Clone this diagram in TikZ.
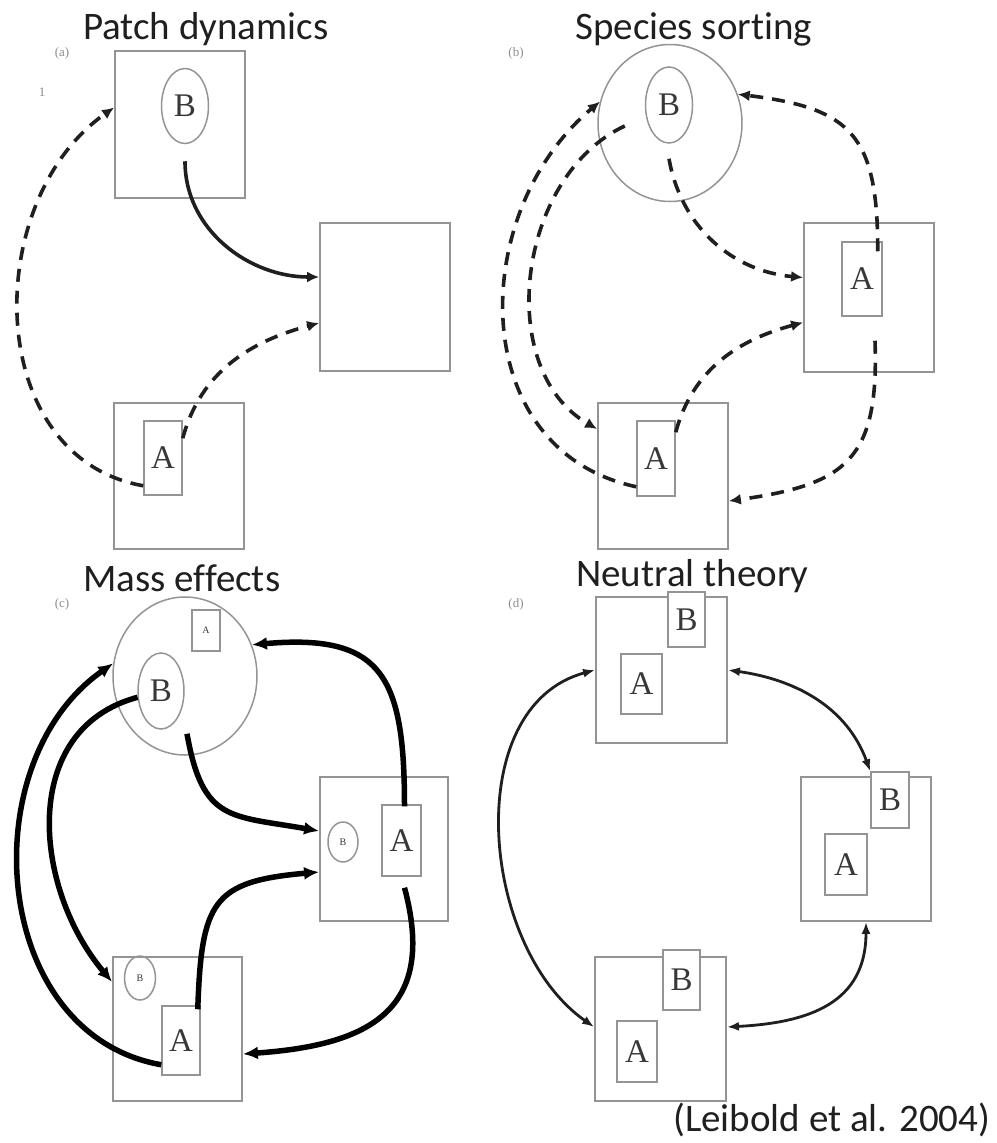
\documentclass[tikz,border=0pt]{standalone}
\usepackage{fontspec}
\setmainfont{Liberation Serif}
\setsansfont{Carlito}[Ligatures=NoCommon]
\usetikzlibrary{arrows.meta,shapes.geometric}

\begin{document}
\begin{tikzpicture}[x=1pt, y=1pt,
  patch/.style={draw=black!42, line width=1.8pt, inner sep=0pt, minimum width=130pt, minimum height=147pt},
  comm/.style={ellipse, draw=black!42, line width=1.5pt, inner sep=0pt, minimum width=144pt, minimum height=157pt},
  spB/.style={ellipse, draw=black!42, line width=1.5pt, inner sep=0pt, minimum width=47pt, minimum height=75pt, text=black!78, font=\fontsize{33}{33}\selectfont},
  spA/.style={draw=black!42, line width=1.5pt, inner sep=0pt, minimum width=39pt, minimum height=73pt, text=black!78, font=\fontsize{33}{33}\selectfont},
  wee/.style={font=\fontsize{10}{10}\selectfont},
  ttl/.style={anchor=base west, inner sep=0pt, text=black!88, font=\sffamily\fontsize{39}{39}\selectfont},
  tag/.style={inner sep=0pt, text=black!45, font=\fontsize{13}{13}\selectfont},
  disp/.style={line width=3.6pt, draw=black!88, dash pattern=on 13pt off 9pt, -{Latex[length=12pt,width=11pt]}},
  flow/.style={line width=3.6pt, draw=black!88, -{Latex[length=12pt,width=11pt]}},
  mass/.style={line width=5.5pt, draw=black, -{Latex[length=15pt,width=13pt]}},
  neut/.style={line width=2.8pt, draw=black!88, {Latex[length=12pt,width=9pt]}-{Latex[length=12pt,width=9pt]}}]
  \useasboundingbox (0,0) rectangle (996,-1143);

  % (a) patch dynamics
  \node[ttl] (Ta) at (83,-39) {Patch dynamics};
  \node[tag] (la) at (62,-53) {(a)};
  \node[tag] (ma) at (42,-92) {1};
  \node[patch] (P1a) at (180,-124.5) {};
  \node[spB] (Ba) at (185,-106) {B};
  \node[patch, minimum height=148pt] (P2a) at (385,-297) {};
  \node[patch, minimum height=146pt] (P3a) at (179,-476) {};
  \node[spA, minimum width=38pt, minimum height=74pt] (Aa) at (163,-458) {A};
  \draw[flow] ([yshift=-17pt]Ba.south) to[out=-90, in=180] ([yshift=20pt]P2a.west);
  \draw[disp] ([yshift=10pt]Aa.south west) to[out=170, in=215, looseness=1.1] ([yshift=17pt]P1a.west);
  \draw[disp] ([yshift=-18pt]Aa.north east) to[out=75, in=195] ([yshift=-26pt]P2a.west);

  % (b) species sorting
  \node[ttl] (Tb) at (575,-39) {Species sorting};
  \node[tag] (lb) at (516,-53) {(b)};
  \node[comm] (Cb) at (670,-123) {};
  \node[spB, minimum height=76pt] (Bb) at (669,-105) {B};
  \node[patch, minimum height=149pt] (P2b) at (869,-297.5) {};
  \node[spA, minimum width=40pt, minimum height=74pt] (Ab2) at (862,-279) {A};
  \node[patch, minimum height=146pt] (P3b) at (663,-476) {};
  \node[spA, minimum width=38pt, minimum height=75pt] (Ab3) at (656,-458.5) {A};
  \draw[disp] ([yshift=-15pt]Bb.south) to[out=-80, in=175] ([yshift=20pt]P2b.west);
  \draw[disp] ([shift={(-20pt,-21pt)}]Bb.west) to[out=205, in=150] ([yshift=47pt]P3b.west);
  \draw[disp] ([yshift=10pt]Ab3.south west) to[out=168, in=220, looseness=1.15] (Cb.163);
  \draw[disp] ([yshift=-12pt]Ab3.north east) to[out=75, in=195] ([yshift=-25pt]P2b.west);
  \draw[disp] ([xshift=13pt,yshift=-24pt]Ab2.south) to[out=-88, in=8, looseness=1.4] ([yshift=-25pt]P3b.east);
  \draw[disp] ([shift={(-5pt,-10pt)}]Ab2.north east) to[out=90, in=-7, looseness=1.4] (Cb.23);

  % (c) mass effects
  \node[ttl] (Tc) at (83,-591) {Mass effects};
  \node[tag] (lc) at (62,-604) {(c)};
  \node[comm, minimum height=158pt] (Cc) at (185,-676) {};
  \node[spA, wee, minimum width=28pt, minimum height=41pt] (Ac1) at (206,-630.5) {A};
  \node[spB, minimum width=46pt, minimum height=76pt] (Bc) at (161,-691) {B};
  \node[patch, minimum width=128pt, minimum height=144pt] (P2c) at (384,-849) {};
  \node[spB, wee, minimum width=30pt, minimum height=40pt] (bc2) at (343,-842) {B};
  \node[spA, minimum width=39pt, minimum height=71pt] (Ac2) at (401.5,-840.5) {A};
  \node[patch, minimum width=129pt, minimum height=144pt] (P3c) at (177.5,-1029) {};
  \node[spB, wee, minimum width=31pt, minimum height=44pt] (bc3) at (140,-978) {B};
  \node[spA, minimum width=38pt, minimum height=69pt] (Ac3) at (181,-1040.5) {A};
  \draw[mass] ([xshift=26pt,yshift=-4pt]Bc.south) to[out=-80, in=170, looseness=1.4] ([yshift=18pt]P2c.west);
  \draw[mass] ([shift={(-3pt,-4pt)}]Ac3.north east) to[out=88, in=185, looseness=1.5] ([yshift=-23pt]P2c.west);
  \draw[mass] ([xshift=3pt,yshift=-2pt]Ac2.north) to[out=90, in=5, looseness=1.5] (Cc.25);
  \draw[mass] ([xshift=3pt,yshift=-11pt]Ac2.south) to[out=-75, in=4, looseness=1.4] ([yshift=-25pt]P3c.east);
  \draw[mass] (Bc.195) to[out=195, in=130, looseness=1.1] ([yshift=47pt]P3c.west);
  \draw[mass] ([yshift=11pt]Ac3.south west) to[out=170, in=215, looseness=1.1] (Cc.170);

  % (d) neutral theory
  \node[ttl] (Td) at (576,-586) {Neutral theory};
  \node[tag] (ld) at (516,-604) {(d)};
  \node[patch, minimum width=131pt, minimum height=146pt] (P1d) at (661.5,-670) {};
  \node[spA, fill=white, minimum width=37pt, minimum height=55pt] (Bd1) at (686.5,-619.5) {B};
  \node[spA, minimum width=41pt, minimum height=60pt] (Ad1) at (641.5,-684) {A};
  \node[patch, minimum width=130pt, minimum height=144pt] (P2d) at (866,-849) {};
  \node[spA, fill=white, minimum width=38pt, minimum height=56pt] (Bd2) at (890,-800) {B};
  \node[spA, minimum width=42pt, minimum height=61pt] (Ad2) at (846,-864.5) {A};
  \node[patch, minimum width=131pt, minimum height=144pt] (P3d) at (660.5,-1029) {};
  \node[spA, fill=white, minimum width=37pt, minimum height=60pt] (Bd3) at (681.5,-980) {B};
  \node[spA, minimum width=40pt, minimum height=61pt] (Ad3) at (637,-1051.5) {A};
  \draw[neut] (P1d.east) to[out=-8, in=110] (Bd2.north west);
  \draw[neut] (P2d.south) to[out=-90, in=3, looseness=1.2] ([yshift=2pt]P3d.east);
  \draw[neut] (P1d.west) to[out=195, in=145] ([yshift=2pt]P3d.west);

  \node[ttl] (cite) at (673,-1131) {(Leibold et al. 2004)};
\end{tikzpicture}
\end{document}
